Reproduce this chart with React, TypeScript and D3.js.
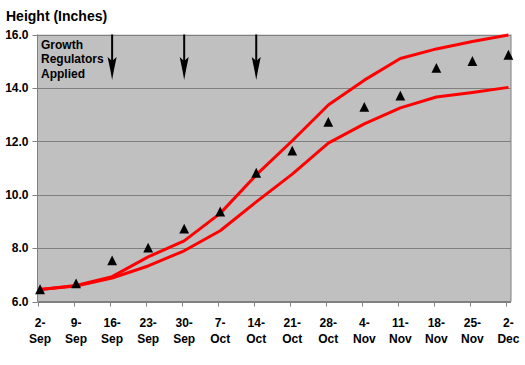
import * as d3 from "d3";

const W = 525;
const H = 365;
const PLOT = { left: 37.5, right: 511, top: 34.5, bottom: 301.5 };

const weekLabels = ["2-Sep", "9-Sep", "16-Sep", "23-Sep", "30-Sep", "7-Oct", "14-Oct", "21-Oct", "28-Oct", "4-Nov", "11-Nov", "18-Nov", "25-Nov", "2-Dec"];
const measured = [6.45, 6.67, 7.53, 8.01, 8.72, 9.36, 10.81, 11.64, 12.72, 13.28, 13.7, 14.74, 15.0, 15.23];
const upperTarget = [6.45, 6.6, 6.93, 7.67, 8.27, 9.3, 10.74, 12.02, 13.36, 14.29, 15.1, 15.46, 15.74, 15.98];
const lowerTarget = [6.45, 6.58, 6.88, 7.33, 7.9, 8.65, 9.73, 10.77, 11.93, 12.65, 13.25, 13.66, 13.83, 14.02];
const applied = ["16-Sep", "30-Sep", "14-Oct"];
const yTicks = [6, 8, 10, 12, 14, 16];

const FONT = "'Liberation Sans', Arial, sans-serif";
const parse = d3.timeParse("%e-%b");
// Excel date axis: each day is a slot, points sit in the middle of it
const mid = (s: string) => d3.timeHour.offset(parse(s) as Date, 12);

export default function App() {
  const days = weekLabels.map((s) => parse(s) as Date);
  const x = d3
    .scaleTime()
    .domain([days[0], d3.timeDay.offset(days[days.length - 1], 1)])
    .range([PLOT.left, PLOT.right]);
  const y = d3.scaleLinear().domain([6, 16]).range([PLOT.bottom, PLOT.top]);

  const line = d3
    .line<number>()
    .x((_, i) => x(mid(weekLabels[i])))
    .y((d) => y(d));

  const triangle = (cx: number, cy: number) =>
    `M${cx},${cy - 5.2}L${cx + 4.9},${cy + 4.7}L${cx - 4.9},${cy + 4.7}Z`;

  const arrowHead = (ax: number, tip: number) =>
    `M${ax},${tip}L${ax - 1.6},${tip - 9}L${ax - 4.5},${tip - 23}L${ax},${tip - 19}L${ax + 4.5},${tip - 23}L${ax + 1.6},${tip - 9}Z`;

  return (
    <svg width={W} height={H} style={{ position: "absolute", left: 0, top: 0 }} fontFamily={FONT}>
      <rect x={0} y={0} width={W} height={H} fill="#fff" />
      <text x={6} y={21} fontSize={14} fontWeight="bold">
        Height (Inches)
      </text>

      <rect x={PLOT.left} y={PLOT.top} width={PLOT.right - PLOT.left} height={PLOT.bottom - PLOT.top} fill="#c0c0c0" />

      {yTicks.map((t) => (
        <g key={t}>
          <line x1={PLOT.left} x2={PLOT.right} y1={Math.round(y(t)) + 0.5} y2={Math.round(y(t)) + 0.5} stroke="#808080" strokeWidth={1} />
          <line x1={PLOT.left - 5} x2={PLOT.left} y1={Math.round(y(t)) + 0.5} y2={Math.round(y(t)) + 0.5} stroke="#808080" />
          <text x={28.5} y={y(t)} dy="0.36em" textAnchor="end" fontSize={12} fontWeight="bold">
            {t.toFixed(1)}
          </text>
        </g>
      ))}

      <line x1={PLOT.left} x2={PLOT.left} y1={PLOT.top} y2={PLOT.bottom} stroke="#808080" />
      <line x1={PLOT.right} x2={PLOT.right} y1={PLOT.top} y2={PLOT.bottom} stroke="#808080" />
      <line x1={PLOT.left} x2={PLOT.right} y1={PLOT.bottom} y2={PLOT.bottom} stroke="#808080" />

      {days.map((d, i) => {
        const tx = Math.round(x(d)) + 0.5;
        const [num, mon] = weekLabels[i].split("-");
        return (
          <g key={i}>
            <line x1={tx} x2={tx} y1={PLOT.bottom} y2={PLOT.bottom + 5} stroke="#808080" />
            <text x={x(mid(weekLabels[i]))} y={327} textAnchor="middle" fontSize={12} fontWeight="bold">
              {num + "-"}
            </text>
            <text x={x(mid(weekLabels[i]))} y={343} textAnchor="middle" fontSize={12} fontWeight="bold">
              {mon}
            </text>
          </g>
        );
      })}

      <path d={line(upperTarget) ?? ""} fill="none" stroke="#ff0000" strokeWidth={3} strokeLinejoin="round" />
      <path d={line(lowerTarget) ?? ""} fill="none" stroke="#ff0000" strokeWidth={3} strokeLinejoin="round" />

      {measured.map((v, i) => (
        <path key={i} d={triangle(x(mid(weekLabels[i])), y(v))} fill="#000" />
      ))}

      {applied.map((s) => {
        const ax = x(mid(s));
        const tip = y(14.3);
        return (
          <g key={s}>
            <line x1={ax} x2={ax} y1={PLOT.top} y2={tip - 8} stroke="#000" strokeWidth={2} />
            <path d={arrowHead(ax, tip)} fill="#000" />
          </g>
        );
      })}

      <text x={41} fontSize={12} fontWeight="bold">
        <tspan x={41} y={48.5}>Growth</tspan>
        <tspan x={41} y={63}>Regulators</tspan>
        <tspan x={41} y={77.5}>Applied</tspan>
      </text>
    </svg>
  );
}
